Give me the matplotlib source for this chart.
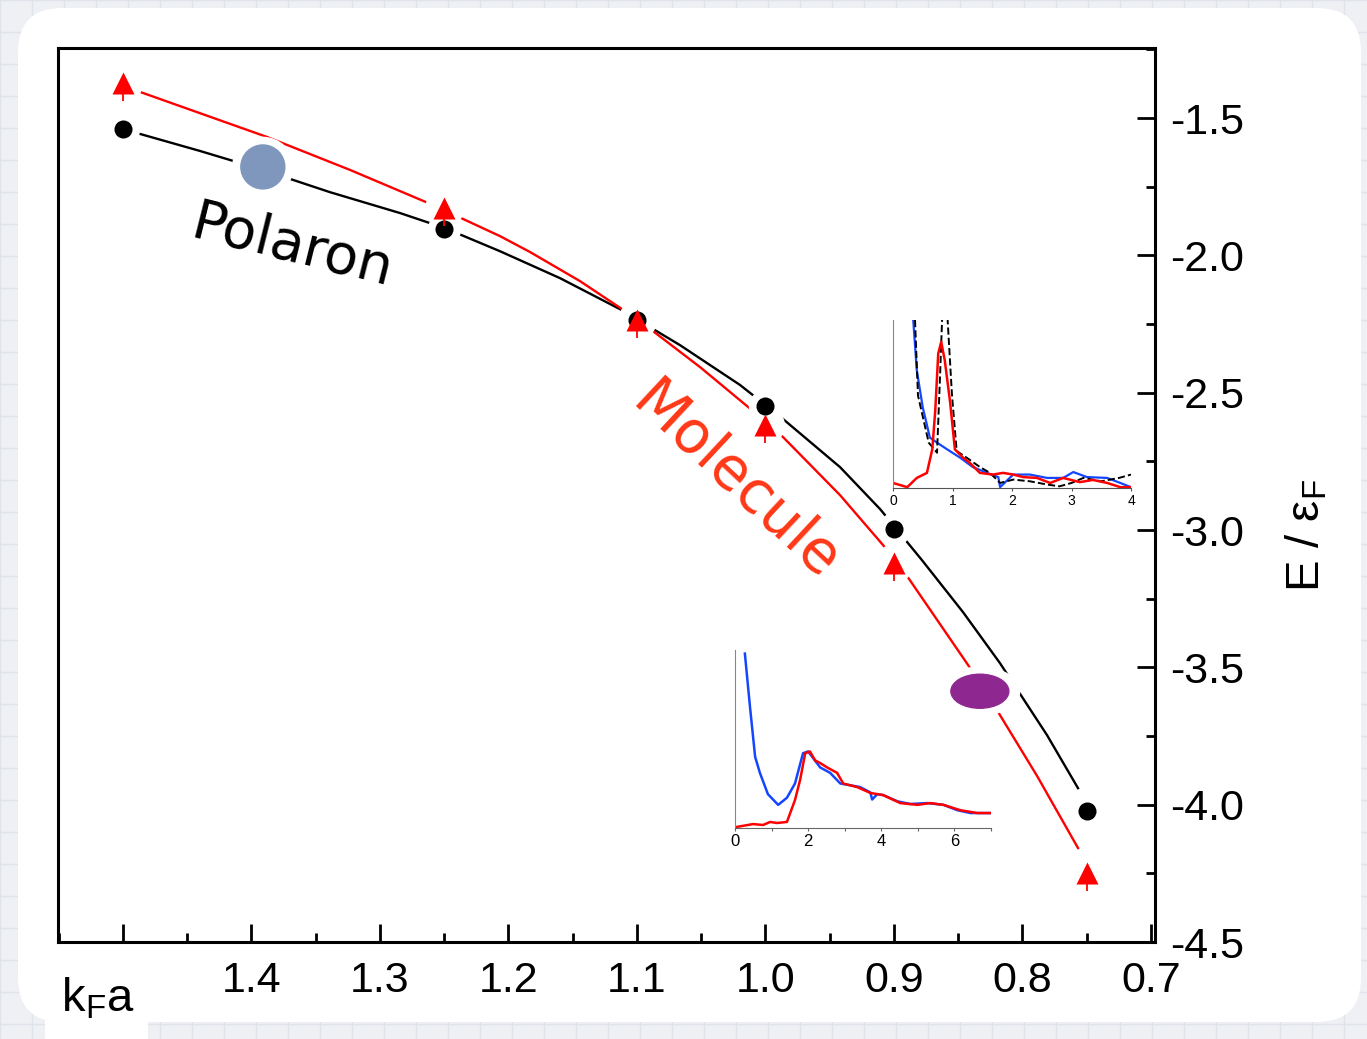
import matplotlib
matplotlib.use("Agg")
import matplotlib.pyplot as plt
from matplotlib.patches import Ellipse, FancyBboxPatch, Rectangle
from matplotlib.transforms import IdentityTransform
from matplotlib.ticker import MultipleLocator

plt.rcParams['font.family'] = ['Liberation Sans', 'DejaVu Sans']
plt.rcParams['mathtext.fontset'] = 'custom'
plt.rcParams['mathtext.rm'] = 'Liberation Sans'

# main data: energies vs k_F a
kfa = [1.5, 1.25, 1.1, 1.0, 0.9, 0.75]
e_polaron = [-1.540, -1.904, -2.236, -2.549, -2.997, -4.024]
e_molecule = [-1.373, -1.828, -2.236, -2.618, -3.121, -4.249]
mol_err_low = [0.065, 0.065, 0.065, 0.065, 0.065, 0.065]

# fitted curves
fit_pol_x = [1.4865, 1.4398, 1.3908, 1.3387, 1.2842, 1.2492, 1.2064, 1.1597, 1.1130, 1.0663,
             1.0196, 0.9869, 0.9418, 0.9106, 0.8780, 0.8461, 0.8173, 0.7807, 0.7566]
fit_pol_y = [-1.558, -1.620, -1.689, -1.770, -1.846, -1.901, -1.985, -2.083, -2.196, -2.327,
             -2.472, -2.593, -2.771, -2.924, -3.110, -3.299, -3.485, -3.747, -3.940]
fit_mol_x = [1.4865, 1.3877, 1.3231, 1.2585, 1.2064, 1.1830, 1.1441, 1.1091, 1.0873, 1.0507,
             1.0095, 0.9861, 0.9418, 0.9083, 0.8896, 0.8421, 0.8211, 0.7884, 0.7566]
fit_mol_y = [-1.405, -1.569, -1.689, -1.817, -1.930, -1.988, -2.094, -2.203, -2.276, -2.407,
             -2.567, -2.662, -2.873, -3.055, -3.168, -3.492, -3.645, -3.896, -4.158]

xticks = [1.5, 1.4, 1.3, 1.2, 1.1, 1.0, 0.9, 0.8, 0.7]
xticklabels = ['', '1.4', '1.3', '1.2', '1.1', '1.0', '0.9', '0.8', '0.7']
yticks = [-1.5, -2.0, -2.5, -3.0, -3.5, -4.0, -4.5]
yticklabels = ['-1.5', '-2.0', '-2.5', '-3.0', '-3.5', '-4.0', '-4.5']

# upper inset spectra
up_blue_x = [0.34, 0.40, 0.50, 0.62, 0.74, 0.91, 1.13, 1.34, 1.58, 1.77, 1.80, 2.02, 2.30,
             2.59, 2.86, 3.03, 3.26, 3.60, 3.82, 4.0]
up_blue_y = [1.0, 0.70, 0.48, 0.30, 0.27, 0.23, 0.18, 0.125, 0.09, 0.065, 0.005, 0.08, 0.08,
             0.06, 0.06, 0.095, 0.065, 0.06, 0.03, 0.005]
up_red_x = [0.0, 0.24, 0.40, 0.57, 0.66, 0.71, 0.76, 0.81, 0.87, 0.96, 1.04, 1.18, 1.29, 1.46,
            1.68, 1.85, 2.02, 2.19, 2.42, 2.64, 2.86, 3.14, 3.36, 3.60, 3.82, 4.0]
up_red_y = [0.03, 0.005, 0.06, 0.09, 0.23, 0.46, 0.80, 0.87, 0.76, 0.51, 0.23, 0.18, 0.15, 0.09,
            0.08, 0.09, 0.08, 0.065, 0.06, 0.03, 0.06, 0.035, 0.048, 0.03, 0.005, 0.005]
up_black_x = [0.37, 0.42, 0.60, 0.74, 0.79, 0.83, 0.91, 0.99, 1.07, 1.24, 1.46, 1.63, 1.80,
              2.02, 2.30, 2.60, 2.80, 3.00, 3.20, 3.50, 3.80, 4.0]
up_black_y = [1.0, 0.55, 0.27, 0.21, 0.66, 1.05, 1.05, 0.56, 0.22, 0.18, 0.125, 0.09, 0.03,
              0.05, 0.04, 0.02, 0.01, 0.03, 0.06, 0.04, 0.06, 0.08]

# lower inset spectra
lo_blue_x = [0.27, 0.41, 0.55, 0.68, 0.90, 1.18, 1.42, 1.64, 1.86, 2.0, 2.33, 2.60, 2.88, 3.15,
             3.42, 3.70, 3.75, 3.89, 4.05, 4.44, 4.79, 5.26, 5.70, 6.08, 6.44, 6.79, 7.0]
lo_blue_y = [0.98, 0.68, 0.40, 0.31, 0.19, 0.13, 0.17, 0.25, 0.42, 0.43, 0.34, 0.31, 0.25, 0.24,
             0.23, 0.20, 0.16, 0.19, 0.185, 0.15, 0.135, 0.14, 0.13, 0.10, 0.084, 0.084, 0.084]
lo_red_x = [0.05, 0.49, 0.77, 0.96, 1.15, 1.42, 1.64, 1.78, 1.92, 2.05, 2.19, 2.33, 2.52, 2.79,
            2.96, 3.34, 3.70, 4.05, 4.52, 4.99, 5.34, 5.70, 6.16, 6.63, 7.0]
lo_red_y = [0.006, 0.022, 0.017, 0.034, 0.028, 0.034, 0.157, 0.27, 0.42, 0.43, 0.38, 0.365,
            0.34, 0.31, 0.25, 0.23, 0.197, 0.185, 0.14, 0.13, 0.14, 0.13, 0.10, 0.084, 0.084]

W, H = 1367, 1039
fig = plt.figure(figsize=(W / 100, H / 100), dpi=100)
fig.patch.set_facecolor('#eef0f4')

# faint grid paper behind everything
bg = fig.add_axes([0, 0, 1, 1], zorder=-3)
bg.set_xlim(0, W)
bg.set_ylim(H, 0)
bg.xaxis.set_major_locator(MultipleLocator(32))
bg.yaxis.set_major_locator(MultipleLocator(32))
bg.grid(True, color='#dfe3ea', lw=1)
bg.tick_params(length=0, labelbottom=False, labelleft=False)
for s in bg.spines.values():
    s.set_visible(False)
bg.set_facecolor('#eef0f4')

card = FancyBboxPatch((18, H - 1022), 1343, 1014, boxstyle="round,pad=0,rounding_size=44",
                      transform=IdentityTransform(), facecolor='white', edgecolor='none', zorder=-2)
fig.add_artist(card)
fig.add_artist(Rectangle((45, 0), 103, 30, transform=IdentityTransform(),
                         facecolor='white', edgecolor='none', zorder=-2))

ax = fig.add_axes([58 / W, 1 - 942 / H, 1097 / W, 894 / H])
ax.set_facecolor('white')

ax.plot(fit_pol_x, fit_pol_y, '-', color='black', lw=1.7, zorder=2)
ax.plot(fit_mol_x, fit_mol_y, '-', color='red', lw=1.7, zorder=2)

# white halos that open gaps in the lines round the markers
ax.plot(kfa, e_polaron, 'o', ms=24, color='white', mec='none', zorder=3)
ax.plot(kfa, e_molecule, 'o', ms=28, color='white', mec='none', zorder=3)

ax.plot(kfa, e_polaron, 'o', ms=13, color='black', mec='none', zorder=5)
ax.errorbar(kfa, e_molecule, yerr=[mol_err_low, [0] * 6], fmt='^', ms=16, color='red',
            mec='none', ecolor='red', elinewidth=1.3, capsize=0, zorder=6)

# coloured blobs
ax.add_patch(Ellipse((1.391, -1.678), 0.047, 0.215, color='white', zorder=3))
ax.add_patch(Ellipse((1.391, -1.678), 0.0342, 0.160, color='#7f97bc', zorder=5))
ax.add_patch(Ellipse((0.833, -3.587), 0.062, 0.175, color='white', zorder=3))
ax.add_patch(Ellipse((0.833, -3.587), 0.0451, 0.124, color='#8e2890', zorder=5))

ax.text(1.368, -1.97, 'Polaron', rotation=-14, fontsize=40, family='DejaVu Sans',
        ha='center', va='center', color='black', zorder=6)
ax.text(1.0235, -2.8255, 'Molecule', rotation=-43, fontsize=42, family='DejaVu Sans',
        ha='center', va='center', color='#ff3816', zorder=6)

ax.set_xlim(1.5504, 0.6967)
ax.set_ylim(-4.5, -1.245)
ax.set_xticks(xticks)
ax.set_xticklabels(xticklabels)
ax.xaxis.set_minor_locator(MultipleLocator(0.05))
ax.set_yticks(yticks)
ax.set_yticklabels(yticklabels)
ax.yaxis.set_minor_locator(MultipleLocator(0.25))
ax.yaxis.tick_right()
ax.tick_params(axis='both', which='major', direction='in', length=13, width=2.0, labelsize=31)
ax.tick_params(axis='both', which='minor', direction='in', length=6.5, width=2.0)
ax.tick_params(axis='x', which='both', top=False, pad=14)
ax.tick_params(axis='y', which='both', left=False, right=True, pad=11)
for s in ax.spines.values():
    s.set_linewidth(2.2)

ax.yaxis.set_label_position('right')
ax.set_ylabel(r'E / ε$_{\mathregular{F}}$', fontsize=34, rotation=90)
ax.yaxis.set_label_coords(1.118, 0.455)
ax.text(0.036, -0.063, r'k$_{\mathregular{F}}$a', transform=ax.transAxes, fontsize=34,
        ha='center', va='center')

# upper inset
ia = fig.add_axes([893 / W, 1 - 488 / H, 238 / W, 168 / H], zorder=2)
ia.set_facecolor('none')
ia.plot(up_blue_x, up_blue_y, color='#1446ff', lw=1.6)
ia.plot(up_black_x, up_black_y, '--', color='black', lw=1.4)
ia.plot(up_red_x, up_red_y, color='red', lw=1.8)
ia.set_xlim(0, 4)
ia.set_ylim(0, 1)
ia.set_xticks([0, 1, 2, 3, 4])
ia.set_yticks([])
ia.spines['top'].set_visible(False)
ia.spines['right'].set_visible(False)
ia.spines['left'].set_color('#888888')
ia.spines['bottom'].set_color('#555555')
ia.tick_params(axis='x', length=2, width=0.8, labelsize=10, pad=2, color='#555555')

# lower inset
ib = fig.add_axes([735 / W, 1 - 828 / H, 256 / W, 178 / H], zorder=2)
ib.set_facecolor('none')
ib.plot(lo_blue_x, lo_blue_y, color='#1446ff', lw=1.8)
ib.plot(lo_red_x, lo_red_y, color='red', lw=1.8)
ib.set_xlim(0, 7)
ib.set_ylim(0, 1)
ib.set_xticks([0, 2, 4, 6])
ib.xaxis.set_minor_locator(MultipleLocator(1))
ib.set_yticks([])
ib.spines['top'].set_visible(False)
ib.spines['right'].set_visible(False)
ib.spines['left'].set_color('#888888')
ib.spines['bottom'].set_color('#666666')
ib.tick_params(axis='x', which='both', length=2.5, width=0.8, labelsize=12, pad=2, color='#666666')

fig.savefig('out.png', dpi=100, facecolor=fig.get_facecolor())
